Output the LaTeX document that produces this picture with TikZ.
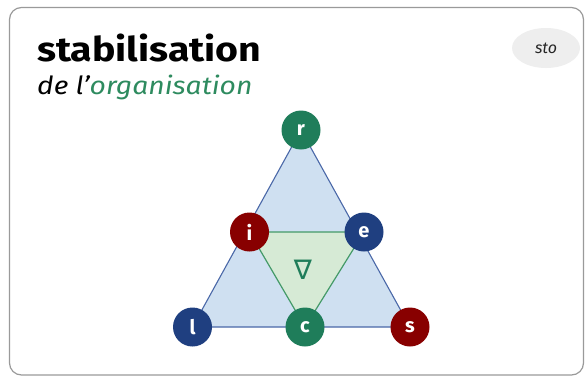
\documentclass[tikz,border=0pt]{standalone}
\usepackage{fontspec}
\usetikzlibrary{shapes.geometric}
\setmainfont{Fira Sans}
\newfontfamily\symfont{DejaVu Sans}
\definecolor{cardborder}{HTML}{9A9A9A}
\definecolor{titlegreen}{HTML}{2E8B5F}
\definecolor{pillgray}{HTML}{EEEEEE}
\definecolor{outerfill}{HTML}{CFE0F1}
\definecolor{outerline}{HTML}{4A68A8}
\definecolor{innerfill}{HTML}{D6EAD5}
\definecolor{innerline}{HTML}{449A68}
\definecolor{ngreen}{HTML}{1F7D5A}
\definecolor{nred}{HTML}{880000}
\definecolor{nblue}{HTML}{1F3F80}
\tikzset{
  x=1pt,y=1pt,
  vnode/.style={circle,minimum size=39pt,inner sep=0pt,text=white,font=\fontsize{20}{20}\selectfont\bfseries},
}
\begin{document}
\begin{tikzpicture}
\useasboundingbox (0,0) rectangle (586,376);
\draw[cardborder,line width=1.2pt,rounded corners=12pt,fill=white] (9.5,1) rectangle (583.5,368.5);
% title
\node[anchor=base west,inner sep=0pt,font=\fontsize{34}{34}\selectfont\bfseries] (title) at (37,315) {\scalebox{1.155}[1]{stabilisation}};
\node[anchor=base west,inner sep=0pt,font=\fontsize{25}{25}\selectfont\itshape] (sub) at (37,282) {\scalebox{1.13}[1]{de l’\textcolor{titlegreen}{organisation}}};
% pill
\node[ellipse,fill=pillgray,minimum width=68pt,minimum height=40pt,inner sep=0pt,text=black!85,font=\fontsize{16}{16}\selectfont\itshape] (pill) at (546,328) {sto};
% coordinates
\coordinate (R) at (301,246);
\coordinate (L) at (192.5,49);
\coordinate (S) at (410,49);
\coordinate (I) at (249.5,144);
\coordinate (E) at (364,144);
\coordinate (C) at (305,49);
\filldraw[fill=outerfill,draw=outerline,line width=1.1pt,line join=round] (R) -- (L) -- (S) -- cycle;
\filldraw[fill=innerfill,draw=innerline,line width=1.2pt,line join=round] (I) -- (E) -- (C) -- cycle;
\node[text=ngreen,font=\symfont\fontsize{27}{27}\selectfont] (nabla) at (303,106) {∇};
\node[vnode,fill=ngreen] (r) at (R) {r};
\node[vnode,fill=nred] (i) at (I) {i};
\node[vnode,fill=nblue] (e) at (E) {e};
\node[vnode,fill=nblue] (l) at (L) {l};
\node[vnode,fill=ngreen] (c) at (C) {c};
\node[vnode,fill=nred] (s) at (S) {s};
\end{tikzpicture}
\end{document}
